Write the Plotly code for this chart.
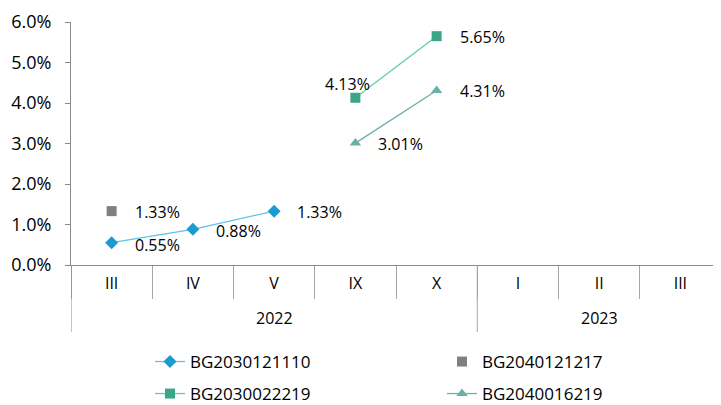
import plotly.graph_objects as go

years = ["2022"] * 5 + ["2023"] * 3
months = ["III", "IV", "V", "IX", "X", "I", "II", "III"]

s1_name = "BG2030121110"
s1_idx = [0, 1, 2]
s1_vals = [0.55, 0.88, 1.33]

s2_name = "BG2040121217"
s2_idx = [0]
s2_vals = [1.33]

s3_name = "BG2030022219"
s3_idx = [3, 4]
s3_vals = [4.13, 5.65]

s4_name = "BG2040016219"
s4_idx = [3, 4]
s4_vals = [3.01, 4.31]

y_ticks = [0, 1, 2, 3, 4, 5, 6]
y_ticktext = [f"{v:.1f}%" for v in y_ticks]

FONT = "'Open Sans', Lato, sans-serif"
FS = 16
AXIS_COL = "#898989"
SEP_COL = "#A6A6A6"

# the page body adds an 8 px margin, so the figure is sized to fit inside it
W, H = 713, 397
M_L, M_T, M_B = 63, 14, 140

n_cat = len(months)
cat_pos = list(range(n_cat))

fig = go.Figure()

fig.add_trace(go.Scatter(x=s1_idx, y=s1_vals, name=s1_name, mode="lines+markers",
                         line=dict(color="#5BC4EC", width=1.3),
                         marker=dict(symbol="diamond", size=10, color="#1A9BD1"),
                         legend="legend"))
fig.add_trace(go.Scatter(x=s2_idx, y=s2_vals, name=s2_name, mode="markers",
                         marker=dict(symbol="square", size=10, color="#808080"),
                         legend="legend"))
fig.add_trace(go.Scatter(x=s3_idx, y=s3_vals, name=s3_name, mode="lines+markers",
                         line=dict(color="#5CCFA7", width=1.3),
                         marker=dict(symbol="square", size=10, color="#3BA588"),
                         legend="legend2"))
fig.add_trace(go.Scatter(x=s4_idx, y=s4_vals, name=s4_name, mode="lines+markers",
                         line=dict(color="#6AAFA8", width=1.3),
                         marker=dict(symbol="triangle-up", size=10, color="#6AAFA8"),
                         legend="legend2"))

# data labels
for idx, vals in [(s1_idx, s1_vals), (s2_idx, s2_vals), (s3_idx, s3_vals), (s4_idx, s4_vals)]:
    for i, v in zip(idx, vals):
        if (i, v) == (3, 4.13):
            fig.add_annotation(x=i, y=v, text=f"{v:.2f}%", showarrow=False,
                               xanchor="center", yanchor="middle", xshift=-8, yshift=14,
                               font=dict(size=FS, color="#000000", family=FONT))
        else:
            fig.add_annotation(x=i, y=v, text=f"{v:.2f}%", showarrow=False,
                               xanchor="left", yanchor="middle", xshift=21,
                               yshift=-2 if (i, v) in [(0, 0.55), (1, 0.88)] else -1,
                               font=dict(size=FS, color="#000000", family=FONT))

# year group labels and dividers (second level of the category axis)
plot_h = H - M_T - M_B
groups = []
for i, yv in enumerate(years):
    if not groups or groups[-1][0] != yv:
        groups.append([yv, i, i])
    else:
        groups[-1][2] = i
for yv, a, b in groups:
    fig.add_annotation(x=(a + b) / 2, y=-53 / plot_h, yref="paper", text=yv,
                       showarrow=False, xanchor="center", yanchor="middle",
                       font=dict(size=FS, color="#000000", family=FONT))
    fig.add_shape(type="line", x0=a - 0.5, x1=a - 0.5, y0=0, y1=-67 / plot_h,
                  xref="x", yref="paper", line=dict(color=SEP_COL if a > 0 else AXIS_COL, width=1))

LEG_FS = 17
fig.update_layout(
    width=W, height=H,
    margin=dict(l=M_L, r=0, t=M_T, b=M_B, autoexpand=False),
    paper_bgcolor="white", plot_bgcolor="white",
    font=dict(family=FONT, size=FS, color="#000000"),
    showlegend=True,
    legend=dict(orientation="h", xref="container", yref="container", x=142 / W, y=1 - 354 / H,
                xanchor="left", yanchor="middle",
                entrywidth=247, entrywidthmode="pixels", font=dict(size=LEG_FS),
                bgcolor="rgba(0,0,0,0)"),
    legend2=dict(orientation="h", xref="container", yref="container", x=142 / W, y=1 - 386 / H,
                 xanchor="left", yanchor="middle",
                 entrywidth=247, entrywidthmode="pixels", font=dict(size=LEG_FS),
                 bgcolor="rgba(0,0,0,0)"),
    xaxis=dict(range=[-0.5, n_cat - 0.5], tickvals=cat_pos, ticktext=months,
               showline=True, linecolor=AXIS_COL, linewidth=1, ticks="",
               minor=dict(tickvals=[p - 0.5 for p in cat_pos] + [n_cat - 0.5], ticks="outside",
                          ticklen=33, tickcolor=SEP_COL, showgrid=False),
               ticklabelstandoff=4,
               showgrid=False, zeroline=False, tickfont=dict(size=FS)),
    yaxis=dict(range=[0, 6], tickvals=y_ticks, ticktext=y_ticktext,
               showline=True, linecolor=AXIS_COL, linewidth=1, ticks="outside",
               ticklen=5, tickcolor=AXIS_COL, showgrid=False, zeroline=False,
               tickfont=dict(size=18), ticklabelstandoff=10),
)

fig.write_html("out.html")
